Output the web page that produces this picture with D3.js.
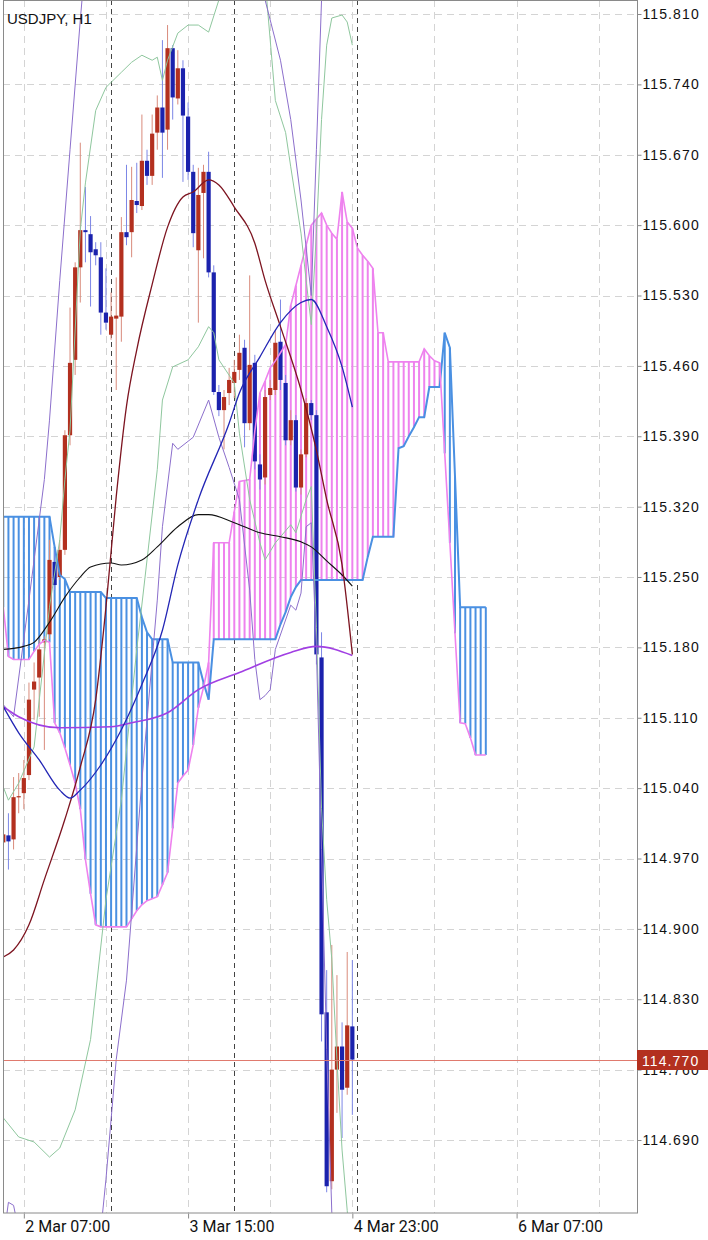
<!DOCTYPE html>
<html>
<head>
<meta charset="utf-8">
<script src="https://cdn.jsdelivr.net/npm/d3@7"></script>
<style>
  body { margin: 0; background: #fff; }
  svg { display: block; font-family: "Liberation Sans", Arial, sans-serif; }
</style>
</head>
<body>
<div id="chart"></div>
<script>
const W = 708, H = 1240;
const plotLeft = 3, plotRight = 637, plotBottom = 1213;

const symbol = "USDJPY, H1";
const priceTicks = [115.81, 115.74, 115.67, 115.60, 115.53, 115.46, 115.39, 115.32, 115.25,
  115.18, 115.11, 115.04, 114.97, 114.90, 114.83, 114.76, 114.69];
const lastPrice = 114.770;

// bar index of each time label / grid line / day separator
const timeTicks = [4, 36, 68, 100];
const timeLabels = ["2 Mar 07:00", "3 Mar 15:00", "4 Mar 23:00", "6 Mar 07:00"];
const gridBars = [4, 20, 36, 52, 68, 84, 100, 116];
const daySeparators = [21, 45, 69];

// H1 candles, bar 0 = 2 Mar 03:00
const open = [114.986,114.993,114.989,115.031,115.035,115.053,115.138,115.150,115.185,115.193,
  115.265,115.250,115.277,115.391,115.466,115.558,115.595,115.591,115.576,115.568,
  115.513,115.491,115.507,115.509,115.593,115.593,115.624,115.619,115.664,115.649,
  115.692,115.717,115.695,115.776,115.726,115.756,115.708,115.653,115.575,115.632,
  115.653,115.553,115.434,115.416,115.433,115.443,115.456,115.478,115.403,115.463,
  115.362,115.349,115.431,115.436,115.484,115.443,115.386,115.406,115.339,115.372,
  115.423,115.411,115.170,114.817,114.649,114.760,114.783,114.742,114.803];
const high = [114.999,115.015,115.051,115.055,115.068,115.145,115.165,115.188,115.191,115.287,
  115.277,115.287,115.396,115.518,115.563,115.682,115.638,115.609,115.583,115.583,
  115.557,115.533,115.548,115.608,115.660,115.658,115.662,115.710,115.675,115.710,
  115.729,115.784,115.799,115.779,115.774,115.764,115.722,115.660,115.657,115.660,
  115.673,115.560,115.441,115.436,115.458,115.466,115.491,115.486,115.550,115.471,
  115.372,115.436,115.446,115.496,115.526,115.451,115.416,115.411,115.377,115.428,
  115.426,115.416,115.195,114.859,114.884,114.854,114.807,114.877,114.869];
const low = [114.979,114.959,114.979,115.015,115.019,115.048,115.108,115.111,115.078,115.188,
  115.237,115.247,115.272,115.381,115.451,115.523,115.563,115.519,115.560,115.491,
  115.496,115.486,115.436,115.484,115.580,115.568,115.612,115.615,115.640,115.640,
  115.675,115.647,115.675,115.705,115.720,115.643,115.645,115.578,115.503,115.567,
  115.548,115.431,115.410,115.377,115.421,115.428,115.446,115.379,115.396,115.357,
  115.337,115.342,115.426,115.431,115.436,115.381,115.381,115.335,115.332,115.369,
  115.406,115.163,114.788,114.638,114.641,114.717,114.692,114.735,114.715];
const close = [114.994,114.987,115.031,115.032,115.050,115.128,115.146,115.178,115.188,115.267,
  115.242,115.277,115.391,115.463,115.558,115.595,115.593,115.573,115.570,115.513,
  115.503,115.509,115.510,115.593,115.588,115.625,115.620,115.664,115.649,115.691,
  115.717,115.692,115.776,115.727,115.756,115.709,115.653,115.592,115.630,115.653,
  115.553,115.434,115.416,115.429,115.446,115.454,115.473,115.403,115.461,115.365,
  115.347,115.429,115.438,115.483,115.446,115.386,115.406,115.339,115.372,115.423,
  115.411,115.173,114.815,114.644,114.760,114.783,114.740,114.804,114.770];

// Ichimoku spans, bar 0..94 (shifted 26 bars ahead)
const senkouA = [115.220,115.171,115.168,115.168,115.168,115.168,115.176,115.183,115.187,115.185,
  115.105,115.095,115.080,115.063,115.045,115.019,114.969,114.935,114.904,114.902,
  114.902,114.902,114.902,114.902,114.902,114.910,114.918,114.924,114.928,114.930,
  114.932,114.944,114.956,115.000,115.045,115.052,115.058,115.083,115.120,115.140,
  115.165,115.284,115.284,115.284,115.284,115.315,115.345,115.346,115.347,115.395,
  115.433,115.445,115.458,115.465,115.473,115.481,115.520,115.540,115.560,115.580,
  115.600,115.606,115.612,115.600,115.592,115.586,115.633,115.603,115.597,115.577,
  115.570,115.564,115.557,115.493,115.493,115.464,115.464,115.464,115.464,115.464,
  115.464,115.464,115.477,115.470,115.465,115.463,115.373,115.284,115.194,115.105,
  115.104,115.090,115.073,115.073,115.073];
const senkouB = [115.310,115.310,115.310,115.310,115.310,115.310,115.310,115.310,115.310,115.310,
  115.280,115.252,115.248,115.235,115.235,115.235,115.235,115.235,115.235,115.235,
  115.229,115.229,115.229,115.229,115.229,115.229,115.229,115.210,115.195,115.188,
  115.188,115.188,115.188,115.165,115.165,115.165,115.165,115.165,115.165,115.145,
  115.128,115.188,115.188,115.188,115.188,115.188,115.188,115.188,115.188,115.188,
  115.188,115.188,115.188,115.188,115.203,115.215,115.230,115.240,115.247,115.247,
  115.247,115.247,115.247,115.247,115.247,115.247,115.247,115.247,115.247,115.247,
  115.247,115.270,115.290,115.290,115.290,115.290,115.290,115.378,115.380,115.390,
  115.399,115.409,115.409,115.439,115.439,115.439,115.493,115.478,115.350,115.220,
  115.220,115.220,115.220,115.220,115.220];

// moving averages [bar, price]
const maBlack = [[0,115.178],[4,115.181],[6,115.185],[9,115.205],[12,115.230],[15,115.250],[17,115.260],
  [21,115.264],[23,115.262],[27,115.267],[30,115.280],[34,115.300],[38,115.312],[40,115.312],
  [45,115.304],[50,115.294],[54,115.290],[58,115.285],[60,115.280],[63,115.266],[66,115.252],[68,115.241]];
const maPurple = [[0,115.121],[3,115.111],[11,115.100],[21,115.101],[25,115.105],[32,115.115],
  [38,115.138],[46,115.155],[56,115.175],[61,115.181],[68,115.172]];
const maMaroon = [[0,114.872],[2,114.879],[5,114.904],[8,114.949],[12,115.009],[15,115.061],[18,115.128],
  [20,115.220],[22,115.330],[24,115.420],[26,115.476],[29,115.541],[32,115.598],[35,115.628],[37,115.633],
  [40,115.645],[42,115.640],[45,115.618],[49,115.582],[51,115.545],[54,115.499],[58,115.436],
  [61,115.376],[63,115.327],[66,115.262],[68,115.173]];
const maNavy = [[0,115.121],[3,115.095],[7,115.068],[11,115.038],[13,115.030],[15,115.038],[19,115.063],
  [23,115.098],[27,115.143],[31,115.197],[34,115.262],[38,115.327],[44,115.403],[46,115.433],
  [50,115.469],[54,115.503],[58,115.523],[60,115.526],[63,115.499],[66,115.459],[68,115.419]];

// bands [bar, price]
const greenUp = [[0,115.041],[1,115.028],[3,115.045],[6,115.081],[9,115.220],[11,115.287],[12,115.347],
  [13,115.396],[15,115.595],[16,115.642],[18,115.714],[20,115.737],[23,115.752],[25,115.762],[27,115.769],
  [29,115.764],[30,115.767],[31,115.744],[32,115.764],[34,115.791],[36,115.799],[38,115.799],[40,115.792],
  [42,115.824],[44,115.864],[48,115.884],[51,115.844],[53,115.724],[55,115.692],[56,115.658],[58,115.592],
  [59,115.545],[60,115.501],[61,115.592],[62,115.705],[63,115.779],[64,115.806],[66,115.809],[67,115.802],
  [68,115.779]];
const greenLo = [[0,114.712],[3,114.693],[6,114.688],[9,114.673],[11,114.682],[14,114.720],[17,114.790],
  [20,114.929],[23,115.028],[26,115.178],[28,115.267],[30,115.357],[31,115.426],[33,115.459],[36,115.466],
  [38,115.479],[40,115.499],[41,115.493],[42,115.466],[45,115.443],[46,115.393],[48,115.327],[50,115.284],
  [51,115.267],[53,115.284],[56,115.302],[57,115.294],[59,115.327],[60,115.340],[61,115.200],[62,115.020],
  [63,114.929],[64,114.870],[65,114.770],[66,114.680],[67,114.620],[68,114.550]];
const purpleUp = [[0,115.123],[2,115.111],[5,115.227],[8,115.347],[9,115.406],[11,115.545],[13,115.675],
  [15,115.804],[16,115.864],[30,116.000],[48,115.900],[51,115.824],[54,115.764],[56,115.705],[58,115.625],
  [60,115.530],[61,115.675],[62,115.824],[63,115.923]];
const purpleLo = [[0,114.590],[1,114.628],[2,114.625],[3,114.600],[5,114.500],[15,114.400],[19,114.600],
  [20,114.651],[22,114.770],[24,114.849],[27,115.048],[30,115.227],[31,115.300],[33,115.383],[34,115.377],
  [37,115.389],[40,115.426],[42,115.389],[44,115.359],[46,115.327],[48,115.237],[49,115.168],[50,115.128],
  [51,115.132],[52,115.138],[53,115.178],[56,115.222],[57,115.217],[58,115.234],[59,115.300],[60,115.304],
  [61,115.178],[62,114.979],[63,114.780],[64,114.618],[65,114.531]];

const x = d3.scaleLinear().domain([0, 120]).range([3.3, 3.3 + 5.133 * 120]);
const y = d3.scaleLinear().domain([115.81, 114.69]).range([14, 1140]);

const svg = d3.select("#chart").append("svg")
    .attr("width", W)
    .attr("height", H);

svg.append("rect").attr("width", W).attr("height", H).attr("fill", "#fff");

svg.append("clipPath").attr("id", "plot")
  .append("rect")
    .attr("x", plotLeft).attr("y", 0)
    .attr("width", plotRight - plotLeft).attr("height", plotBottom);

const g = svg.append("g").attr("clip-path", "url(#plot)");

// grid
g.append("g").selectAll("line")
  .data(priceTicks)
  .join("line")
    .attr("x1", plotLeft).attr("x2", plotRight)
    .attr("y1", d => Math.round(y(d)) + 0.5).attr("y2", d => Math.round(y(d)) + 0.5)
    .attr("stroke", "#d4d4d4").attr("stroke-dasharray", "7,5");

g.append("g").selectAll("line")
  .data(gridBars)
  .join("line")
    .attr("x1", d => Math.round(x(d)) + 0.5).attr("x2", d => Math.round(x(d)) + 0.5)
    .attr("y1", 0).attr("y2", plotBottom)
    .attr("stroke", "#d4d4d4").attr("stroke-dasharray", "7,5");

g.append("g").selectAll("line")
  .data(daySeparators)
  .join("line")
    .attr("x1", d => Math.round(x(d)) + 0.5).attr("x2", d => Math.round(x(d)) + 0.5)
    .attr("y1", 0).attr("y2", plotBottom)
    .attr("stroke", "#444").attr("stroke-dasharray", "5,4");

// cloud hatch
const pink = "#ee82ee", cloudBlue = "#4a90e2";
g.append("g").selectAll("line")
  .data(senkouA)
  .join("line")
    .attr("x1", (d, i) => x(i)).attr("x2", (d, i) => x(i))
    .attr("y1", d => y(d)).attr("y2", (d, i) => y(senkouB[i]))
    .attr("stroke", (d, i) => d > senkouB[i] ? pink : cloudBlue)
    .attr("stroke-width", 2);

// candles
const bars = d3.range(open.length);
const up = i => close[i] >= open[i];
g.append("g").selectAll("line")
  .data(bars)
  .join("line")
    .attr("x1", i => x(i)).attr("x2", i => x(i))
    .attr("y1", i => y(high[i])).attr("y2", i => y(low[i]))
    .attr("stroke", i => up(i) ? "#d98b7c" : "#7c86e6")
    .attr("stroke-width", 1);

g.append("g").selectAll("rect")
  .data(bars)
  .join("rect")
    .attr("x", i => x(i) - 2.1)
    .attr("width", 4.2)
    .attr("y", i => y(Math.max(open[i], close[i])))
    .attr("height", i => Math.max(1.2, Math.abs(y(open[i]) - y(close[i]))))
    .attr("fill", i => up(i) ? "#b3301f" : "#1b22ad");

// cloud edges
const spanLine = d3.line().x((d, i) => x(i)).y(d => y(d));
g.append("path").attr("d", spanLine(senkouB))
  .attr("fill", "none").attr("stroke", cloudBlue).attr("stroke-width", 2);
g.append("path").attr("d", spanLine(senkouA))
  .attr("fill", "none").attr("stroke", pink).attr("stroke-width", 1.6);

// bands and averages
const band = d3.line().x(d => x(d[0])).y(d => y(d[1]));
const smooth = d3.line().x(d => x(d[0])).y(d => y(d[1])).curve(d3.curveMonotoneX);

[[greenUp, "#8fc79e"], [greenLo, "#8fc79e"], [purpleUp, "#8c6fcc"], [purpleLo, "#8c6fcc"]]
  .forEach(([pts, col]) => {
    g.append("path").attr("d", band(pts))
      .attr("fill", "none").attr("stroke", col).attr("stroke-width", 1);
  });

[[maPurple, "#a13fe3", 1.6], [maBlack, "#111", 1.1], [maMaroon, "#7d1420", 1.3], [maNavy, "#2326b5", 1.3]]
  .forEach(([pts, col, w]) => {
    g.append("path").attr("d", smooth(pts))
      .attr("fill", "none").attr("stroke", col).attr("stroke-width", w);
  });

// current price line
g.append("line")
    .attr("x1", plotLeft).attr("x2", plotRight)
    .attr("y1", Math.round(y(lastPrice)) + 0.5).attr("y2", Math.round(y(lastPrice)) + 0.5)
    .attr("stroke", "#e07a6e").attr("stroke-width", 1);

// frame
svg.append("rect")
    .attr("x", plotLeft + 0.5).attr("y", 0.5)
    .attr("width", plotRight - plotLeft).attr("height", plotBottom - 0.5)
    .attr("fill", "none").attr("stroke", "#8a8a8a");

// price axis
const yAxis = svg.append("g")
    .attr("transform", `translate(${plotRight + 0.5},0)`)
    .call(d3.axisRight(y).tickValues(priceTicks).tickFormat(d3.format(".3f")).tickSize(4).tickPadding(1));
yAxis.select(".domain").remove();
yAxis.selectAll("line").attr("stroke", "#8a8a8a");
yAxis.selectAll("text")
    .attr("font-size", 14).attr("letter-spacing", 1.1).attr("fill", "#111")
    .attr("font-family", "'Liberation Sans', Arial, sans-serif");

// time axis
const xAxis = svg.append("g")
    .attr("transform", `translate(0,${plotBottom + 0.5})`)
    .call(d3.axisBottom(x).tickValues(timeTicks).tickFormat((d, k) => timeLabels[k]).tickSize(5).tickPadding(2));
xAxis.select(".domain").remove();
xAxis.selectAll("line").attr("stroke", "#8a8a8a");
xAxis.selectAll("text")
    .attr("text-anchor", "start").attr("dx", 1).attr("dy", "0.7em")
    .attr("font-size", 16).attr("fill", "#111")
    .attr("font-family", "Roboto, 'Liberation Sans', sans-serif");

// last price tag
const tag = svg.append("g").attr("transform", `translate(${plotRight},${Math.round(y(lastPrice))})`);
tag.append("rect").attr("x", 0).attr("y", -10).attr("width", W - plotRight).attr("height", 20)
    .attr("fill", "#b3301f");
tag.append("text").attr("x", 5).attr("y", 5.5)
    .attr("font-size", 14).attr("letter-spacing", 1.1).attr("fill", "#fff")
    .text(d3.format(".3f")(lastPrice));

// title
svg.append("text").attr("x", 7).attr("y", 24)
    .attr("font-size", 15).attr("fill", "#111")
    .text(symbol);
</script>
</body>
</html>
